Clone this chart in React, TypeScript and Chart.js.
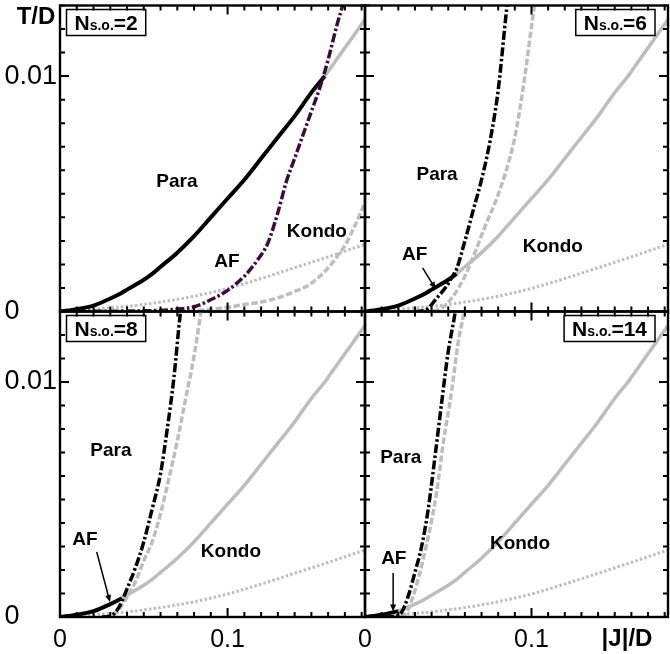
import React, { useEffect, useRef } from "react";
import { Chart, registerables } from "chart.js";

Chart.register(...registerables);

const W = 670;
const H = 654;
const FONT = '"Liberation Sans", Arial, Helvetica, sans-serif';

// ---------- axes ----------
const X_MAX = 0.182;
const Y_MAX = 0.013;
const X_TICK_LABELS = [0, 0.1];
const Y_TICK_LABELS = [0, 0.01];
const X_MINOR_STEP = 0.01;
const Y_MINOR_STEP = 0.001;

// ---------- data ----------
const N_SO = [2, 6, 8, 14];

// Kondo temperature (gray solid, black where it bounds the AF phase)
const TK_X = [0, 0.01, 0.02, 0.03, 0.037, 0.04, 0.05, 0.055, 0.06, 0.07, 0.08, 0.09, 0.1, 0.11, 0.12, 0.13, 0.14, 0.15, 0.158, 0.16, 0.17, 0.18, 0.184];
const TK_Y = [0, 0.0001, 0.00025, 0.00055, 0.0008, 0.00093, 0.00135, 0.0016, 0.0019, 0.0025, 0.0032, 0.004, 0.0048, 0.0056, 0.0065, 0.0074, 0.0083, 0.0093, 0.01, 0.0102, 0.0112, 0.0122, 0.0126];

// gray dotted
const DOT_X = [0, 0.02, 0.04, 0.06, 0.08, 0.1, 0.12, 0.14, 0.16, 0.18, 0.185];
const DOT_Y = [0, 0.0001, 0.00022, 0.0004, 0.00065, 0.00098, 0.0014, 0.00186, 0.00232, 0.0028, 0.0029];

// end of the black (AF boundary) part of T_K for each N
const JUNCTION_X = [0.158, 0.055, 0.037, 0.02];

// dash-dot curves
const N2_DD_X = [0, 0.04, 0.06, 0.07, 0.08, 0.09, 0.1, 0.11, 0.118, 0.124, 0.13, 0.135, 0.14, 0.145, 0.15, 0.155, 0.16, 0.165, 0.1695];
const N2_DD_Y = [0, 0.00002, 0.00005, 0.0001, 0.0002, 0.0005, 0.0009, 0.0015, 0.0022, 0.0029, 0.0042, 0.0055, 0.0065, 0.0075, 0.0085, 0.0095, 0.0107, 0.0121, 0.0132];
const N6_DD_X = [0.03, 0.035, 0.038, 0.043, 0.0487, 0.053, 0.055, 0.06, 0.065, 0.07, 0.075, 0.08, 0.085, 0.0865];
const N6_DD_Y = [0, 0.00003, 0.00014, 0.00056, 0.00105, 0.00155, 0.0018, 0.003, 0.0043, 0.0056, 0.0072, 0.0094, 0.0128, 0.0137];
const N8_DD_X = [0.025, 0.03, 0.035, 0.04, 0.045, 0.05, 0.055, 0.06, 0.064, 0.068, 0.0716, 0.0725];
const N8_DD_Y = [0, 0.00003, 0.0004, 0.0012, 0.0021, 0.0032, 0.0046, 0.0061, 0.008, 0.0102, 0.0128, 0.0133];
const N14_DD_X = [0.012, 0.018, 0.022, 0.026, 0.03, 0.034, 0.038, 0.042, 0.046, 0.05, 0.054, 0.0548];
const N14_DD_Y = [0, 0.00003, 0.0002, 0.0009, 0.0019, 0.003, 0.0046, 0.0068, 0.0091, 0.0113, 0.0129, 0.0133];

// gray dashed curves
const N2_DA_X = [0.05, 0.075, 0.085, 0.1, 0.11, 0.12, 0.13, 0.14, 0.15, 0.16, 0.165, 0.17, 0.175, 0.18, 0.185];
const N2_DA_Y = [0, 0, 0.00006, 0.00017, 0.0003, 0.0004, 0.00058, 0.00085, 0.0012, 0.00185, 0.0023, 0.0028, 0.0035, 0.0043, 0.0052];
const N6_DA_X = [0.03, 0.04, 0.046, 0.052, 0.06, 0.066, 0.072, 0.078, 0.084, 0.09, 0.095, 0.1, 0.102, 0.1035];
const N6_DA_Y = [0, 0.00003, 0.00014, 0.00056, 0.0015, 0.0025, 0.0036, 0.0046, 0.0058, 0.0074, 0.0095, 0.0121, 0.0131, 0.0137];
const N8_DA_X = [0.026, 0.032, 0.036, 0.04, 0.045, 0.05, 0.055, 0.06, 0.065, 0.07, 0.075, 0.08, 0.0835, 0.0845];
const N8_DA_Y = [0, 0.0001, 0.0004, 0.00085, 0.0015, 0.0024, 0.0032, 0.0044, 0.0059, 0.0075, 0.0093, 0.0111, 0.0127, 0.0132];
const N14_DA_X = [0.016, 0.021, 0.025, 0.029, 0.033, 0.037, 0.04, 0.043, 0.047, 0.052, 0.056, 0.059, 0.06];
const N14_DA_Y = [0, 0.00003, 0.0002, 0.0009, 0.0019, 0.0031, 0.0041, 0.0053, 0.0074, 0.0096, 0.0117, 0.0128, 0.0133];

const DD_X = [N2_DD_X, N6_DD_X, N8_DD_X, N14_DD_X];
const DD_Y = [N2_DD_Y, N6_DD_Y, N8_DD_Y, N14_DD_Y];
const DA_X = [N2_DA_X, N6_DA_X, N8_DA_X, N14_DA_X];
const DA_Y = [N2_DA_Y, N6_DA_Y, N8_DA_Y, N14_DA_Y];

// ---------- layout / style ----------
const PANELS = [
  { left: 60, top: 5.5, right: 365, bottom: 311.5, xLabels: false, yLabels: true, box: "left" },
  { left: 365, top: 5.5, right: 668, bottom: 311.5, xLabels: false, yLabels: false, box: "right" },
  { left: 60, top: 311.5, right: 365, bottom: 617, xLabels: true, yLabels: true, box: "left" },
  { left: 365, top: 311.5, right: 668, bottom: 617, xLabels: true, yLabels: false, box: "right" },
];

// label anchors in data coordinates
const ANNOT = [
  { para: [0.0698, 0.0055], af: [0.0996, 0.0021], kondo: [0.1533, 0.0034], arrow: null },
  { para: [0.0433, 0.0058], af: [0.0298, 0.0024], kondo: [0.1128, 0.00274], arrow: [0.0346, 0.00185, 0.0424, 0.00096] },
  { para: [0.0304, 0.00706], af: [0.0149, 0.00328], kondo: [0.102, 0.00277], arrow: [0.0219, 0.00277, 0.0298, 0.00064] },
  { para: [0.0215, 0.00677], af: [0.0173, 0.00247], kondo: [0.0931, 0.00311], arrow: [0.0169, 0.00187, 0.0169, 0.00023] },
];

const GRAY = "#bdbdbd";
const PURPLE = "#3e0b3e";

const zip = (xs: number[], ys: number[]) => xs.map((x, i) => ({ x, y: ys[i] }));
const fmtX = (v: number) => (v === 0 ? "0" : String(v));
// "0" is set as if followed by the digits of "0.01" (aligned like the reference)
const fmtY = (v: number) => (v === 0 ? "0     " : String(v));

function drawFrame(chart: any) {
  const ctx: CanvasRenderingContext2D = chart.ctx;
  const ca = chart.chartArea;
  const xs = chart.scales["x"];
  const ys = chart.scales["y"];
  const L = ca.left, R = ca.right, T = ca.top, B = ca.bottom;
  ctx.save();
  ctx.setLineDash([]);
  ctx.strokeStyle = "#000000";
  ctx.lineWidth = 2;
  ctx.lineCap = "butt";
  ctx.beginPath();
  const nx = Math.round(X_MAX / X_MINOR_STEP);
  for (let i = 0; i <= nx; i++) {
    const v = i * X_MINOR_STEP;
    const major = X_TICK_LABELS.some((t) => Math.abs(t - v) < 1e-9);
    const len = major ? 9 : 5;
    const px = xs.getPixelForValue(v);
    ctx.moveTo(px, B);
    ctx.lineTo(px, B - len);
    ctx.moveTo(px, T);
    ctx.lineTo(px, T + len);
  }
  const ny = Math.round(Y_MAX / Y_MINOR_STEP);
  for (let i = 0; i <= ny; i++) {
    const v = i * Y_MINOR_STEP;
    const major = Y_TICK_LABELS.some((t) => Math.abs(t - v) < 1e-9);
    const len = major ? 9 : 5;
    const py = ys.getPixelForValue(v);
    ctx.moveTo(L, py);
    ctx.lineTo(L + len, py);
    ctx.moveTo(R, py);
    ctx.lineTo(R - len, py);
  }
  ctx.stroke();
  ctx.lineWidth = 2.4;
  ctx.strokeRect(L, T, R - L, B - T);
  ctx.restore();
}

function drawArrow(ctx: CanvasRenderingContext2D, x1: number, y1: number, x2: number, y2: number) {
  const ang = Math.atan2(y2 - y1, x2 - x1);
  const hl = 7;
  const hw = 3;
  ctx.beginPath();
  ctx.moveTo(x1, y1);
  ctx.lineTo(x2 - Math.cos(ang) * hl * 0.8, y2 - Math.sin(ang) * hl * 0.8);
  ctx.lineWidth = 1.5;
  ctx.strokeStyle = "#000";
  ctx.stroke();
  ctx.beginPath();
  ctx.moveTo(x2, y2);
  ctx.lineTo(x2 - Math.cos(ang) * hl + Math.sin(ang) * hw, y2 - Math.sin(ang) * hl - Math.cos(ang) * hw);
  ctx.lineTo(x2 - Math.cos(ang) * hl - Math.sin(ang) * hw, y2 - Math.sin(ang) * hl + Math.cos(ang) * hw);
  ctx.closePath();
  ctx.fillStyle = "#000";
  ctx.fill();
}

function annotPlugin(i: number) {
  return {
    id: "annot" + i,
    afterDraw(chart: any) {
      drawFrame(chart);
      const { ctx, chartArea: ca } = chart;
      const xs = chart.scales.x;
      const ys = chart.scales.y;
      const a = ANNOT[i];
      const p = PANELS[i];
      ctx.save();
      ctx.setLineDash([]);
      ctx.fillStyle = "#000";
      ctx.font = `bold 19px ${FONT}`;
      ctx.textAlign = "center";
      ctx.textBaseline = "middle";
      const items: [string, number[]][] = [
        ["Para", a.para],
        ["AF", a.af],
        ["Kondo", a.kondo],
      ];
      for (const [t, pos] of items) {
        ctx.fillText(t, xs.getPixelForValue(pos[0]), ys.getPixelForValue(pos[1]));
      }
      if (a.arrow) {
        drawArrow(
          ctx,
          xs.getPixelForValue(a.arrow[0]),
          ys.getPixelForValue(a.arrow[1]),
          xs.getPixelForValue(a.arrow[2]),
          ys.getPixelForValue(a.arrow[3])
        );
      }
      // N_s.o. box
      const big = `bold 21px ${FONT}`;
      const small = `bold 14px ${FONT}`;
      const eq = "=" + N_SO[i];
      ctx.font = big;
      const wN = ctx.measureText("N").width;
      const wE = ctx.measureText(eq).width;
      ctx.font = small;
      const wS = ctx.measureText("s.o.").width;
      const boxW = wN + wS + wE + 16;
      const boxH = 26;
      const bx = p.box === "left" ? ca.left + 6.5 : ca.right - 13 - boxW;
      const by = ca.top + 4;
      ctx.lineWidth = 1.5;
      ctx.strokeStyle = "#000";
      ctx.strokeRect(bx, by, boxW, boxH);
      ctx.textAlign = "left";
      ctx.textBaseline = "alphabetic";
      const base = by + 20.5;
      let tx = bx + 8;
      ctx.font = big;
      ctx.fillText("N", tx, base);
      tx += wN;
      ctx.font = small;
      ctx.fillText("s.o.", tx, base);
      tx += wS;
      ctx.font = big;
      ctx.fillText(eq, tx, base);
      // axis names
      ctx.font = `bold 24px ${FONT}`;
      ctx.textAlign = "center";
      ctx.textBaseline = "middle";
      if (i === 0) ctx.fillText("T/D", ca.left - 24, ca.top + 12);
      if (i === 3) ctx.fillText("|J|/D", ca.right - 41, ca.bottom + 22);
      ctx.restore();
    },
  };
}

function buildConfig(i: number): any {
  const p = PANELS[i];
  const jx = JUNCTION_X[i];
  const tk = zip(TK_X, TK_Y);
  const black = tk.filter((d) => d.x <= jx + 1e-12);
  const grayS = tk.filter((d) => d.x >= jx - 1e-12);
  const common = { showLine: true, pointRadius: 0, fill: false, tension: 0.4, cubicInterpolationMode: "monotone", borderCapStyle: "butt" };
  const datasets = [
    { ...common, label: "dash-dot", data: zip(DD_X[i], DD_Y[i]), borderColor: i === 0 ? PURPLE : "#000", borderWidth: 3.5, borderDash: [9, 2.5, 2.5, 2.5] },
    { ...common, label: "AF boundary", data: black, borderColor: "#000", borderWidth: 4 },
    { ...common, label: "T_K", data: grayS, borderColor: GRAY, borderWidth: 3.5 },
    { ...common, label: "dashed", data: zip(DA_X[i], DA_Y[i]), borderColor: GRAY, borderWidth: 3.5, borderDash: [6.5, 2.5] },
    { ...common, label: "dotted", data: zip(DOT_X, DOT_Y), borderColor: GRAY, borderWidth: 3, borderDash: [2.5, 2.2] },
  ];
  return {
    type: "scatter",
    data: { datasets },
    plugins: [annotPlugin(i)],
    options: {
      responsive: false,
      animation: false,
      events: [],
      layout: {
        padding: {
          left: p.yLabels ? 0 : p.left,
          top: p.top,
          right: W - p.right,
          bottom: p.xLabels ? 0 : H - p.bottom,
        },
      },
      plugins: { legend: { display: false }, tooltip: { enabled: false }, title: { display: false } },
      scales: {
        x: {
          type: "linear",
          min: 0,
          max: X_MAX,
          display: p.xLabels,
          grid: { display: false, drawTicks: false },
          border: { display: false },
          afterBuildTicks: (s: any) => {
            s.ticks = X_TICK_LABELS.map((v) => ({ value: v }));
          },
          afterFit: (s: any) => {
            if (p.xLabels) s.height = H - p.bottom;
            s.paddingLeft = 0;
            s.paddingRight = 0;
          },
          ticks: {
            padding: 8,
            autoSkip: false,
            maxRotation: 0,
            color: "#000",
            font: { family: FONT, size: 25 },
            callback: (v: number) => fmtX(v),
          },
        },
        y: {
          type: "linear",
          min: 0,
          max: Y_MAX,
          display: p.yLabels,
          grid: { display: false, drawTicks: false },
          border: { display: false },
          afterBuildTicks: (s: any) => {
            s.ticks = Y_TICK_LABELS.map((v) => ({ value: v }));
          },
          afterFit: (s: any) => {
            if (p.yLabels) s.width = p.left;
            s.paddingTop = 0;
            s.paddingBottom = 0;
          },
          ticks: {
            padding: 3,
            autoSkip: false,
            color: "#000",
            font: { family: FONT, size: 27 },
            callback: (v: number) => fmtY(v),
          },
        },
      },
    },
  };
}

export default function App() {
  const r0 = useRef<HTMLCanvasElement>(null);
  const r1 = useRef<HTMLCanvasElement>(null);
  const r2 = useRef<HTMLCanvasElement>(null);
  const r3 = useRef<HTMLCanvasElement>(null);
  const refs = [r0, r1, r2, r3];

  useEffect(() => {
    const charts = refs.map((r, i) => new Chart(r.current as HTMLCanvasElement, buildConfig(i)));
    return () => charts.forEach((c) => c.destroy());
  }, []);

  return (
    <div style={{ position: "fixed", left: 0, top: 0, width: W, height: H, background: "#fff" }}>
      {refs.map((r, i) => (
        <canvas
          key={i}
          ref={r}
          width={W}
          height={H}
          style={{ position: "absolute", left: 0, top: 0, width: W, height: H, display: "block" }}
        />
      ))}
    </div>
  );
}
